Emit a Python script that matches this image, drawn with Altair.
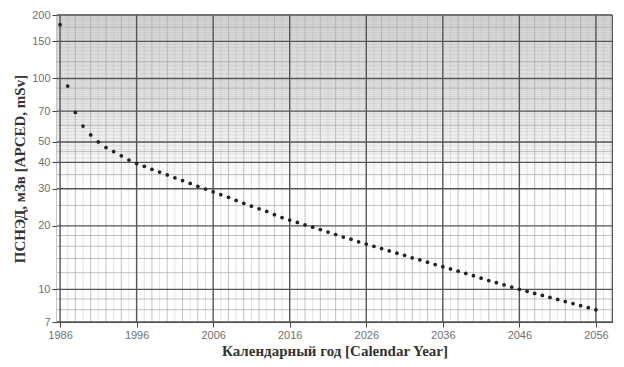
import altair as alt
import pandas as pd

years = list(range(1986, 2057))
apced = [
    180, 92, 69, 59.5, 54, 50, 47, 45, 43, 41,
    39.5, 38.3, 37.1, 36.0, 34.9, 33.8, 32.8, 31.8, 30.8, 29.9,
    29.0, 28.1, 27.3, 26.4, 25.6, 24.8, 24.1, 23.4, 22.6, 21.9,
    21.3, 20.75, 20.2, 19.7, 19.2, 18.7, 18.2, 17.7, 17.3, 16.8,
    16.4, 16.0, 15.6, 15.2, 14.85, 14.5, 14.1, 13.8, 13.45, 13.1,
    12.8, 12.5, 12.2, 11.9, 11.6, 11.3, 11.0, 10.75, 10.5, 10.25,
    10.0, 9.78, 9.56, 9.35, 9.15, 8.95, 8.75, 8.56, 8.37, 8.18,
    8.0,
]

x_ticks = [1986, 1996, 2006, 2016, 2026, 2036, 2046, 2056]
x_minor2 = [y for y in range(1986, 2059, 2) if y not in x_ticks]
x_minor1 = list(range(1987, 2059, 2))
y_ticks = [7, 10, 20, 30, 40, 50, 70, 100, 150, 200]
y_minor = [8, 9, 12, 14, 16, 18, 25, 35, 45, 60, 80, 90, 120, 175]
y_fine = list(range(42, 100, 2)) + list(range(105, 200, 5))

x_domain = [1985.6, 2058.1]
y_domain = [7, 200]

W, H = 555, 307

xs = alt.Scale(domain=x_domain, nice=False, zero=False)
ys = alt.Scale(type="log", domain=y_domain, nice=False)

common = dict(
    grid=False,
    labelFont="Liberation Sans",
    labelFontSize=11,
    labelColor="#707070",
    labelPadding=2,
    titleFont="Liberation Serif",
    titleFontSize=15,
    titleFontWeight="bold",
    titleColor="#333333",
    domainColor="#444444",
    tickColor="#444444",
    tickSize=5,
    format="d",
)
x_axis = alt.Axis(values=x_ticks, title="Календарный год [Calendar Year]",
                  titleBaseline="alphabetic", titleY=33, **common)
y_axis = alt.Axis(values=y_ticks, title="ПСНЭД, мЗв [APCED, mSv]",
                  titlePadding=4, **common)

df = pd.DataFrame({"year": years, "v": apced})

bg = alt.Chart(pd.DataFrame({"a": [0]})).mark_rect(
    color=alt.Gradient(
        gradient="linear",
        stops=[
            alt.GradientStop(color="#d4d4d4", offset=0),
            alt.GradientStop(color="#e6e6e6", offset=0.3),
            alt.GradientStop(color="#ffffff", offset=0.58),
            alt.GradientStop(color="#ffffff", offset=1),
        ],
        x1=0, x2=0, y1=0, y2=1,
    )
).encode(
    x=alt.value(0),
    x2=alt.value(W),
    y=alt.value(0),
    y2=alt.value(H),
)

def vrules(vals, color, width, opacity):
    return alt.Chart(pd.DataFrame({"year": vals})).mark_rule(
        color=color, strokeWidth=width, opacity=opacity
    ).encode(x=alt.X("year:Q", scale=xs, axis=x_axis))

def hrules(vals, color, width, opacity):
    return alt.Chart(pd.DataFrame({"v": vals})).mark_rule(
        color=color, strokeWidth=width, opacity=opacity
    ).encode(y=alt.Y("v:Q", scale=ys, axis=y_axis))

layers = [
    bg,
    hrules(y_fine, "#a0a0a0", 0.6, 0.35),
    vrules(x_minor1, "#b8b8b8", 1, 0.4),
    hrules(y_minor, "#a8a8a8", 1, 0.7),
    vrules(x_minor2, "#a8a8a8", 1, 0.7),
    hrules(y_ticks, "#555555", 1.4, 1),
    vrules(x_ticks, "#555555", 1.4, 1),
]

pts = alt.Chart(df).mark_circle(size=14, color="#222222", opacity=1).encode(
    x=alt.X("year:Q", scale=xs, axis=x_axis),
    y=alt.Y("v:Q", scale=ys, axis=y_axis),
)

chart = alt.layer(*layers, pts).properties(
    width=W,
    height=H,
    autosize=alt.AutoSizeParams(type="none"),
    padding={"left": 49, "top": 7, "right": 4, "bottom": 37},
).configure_view(stroke="#444444", strokeWidth=1.2)

chart.save("out.html", embed_options={"renderer": "svg", "actions": False})
